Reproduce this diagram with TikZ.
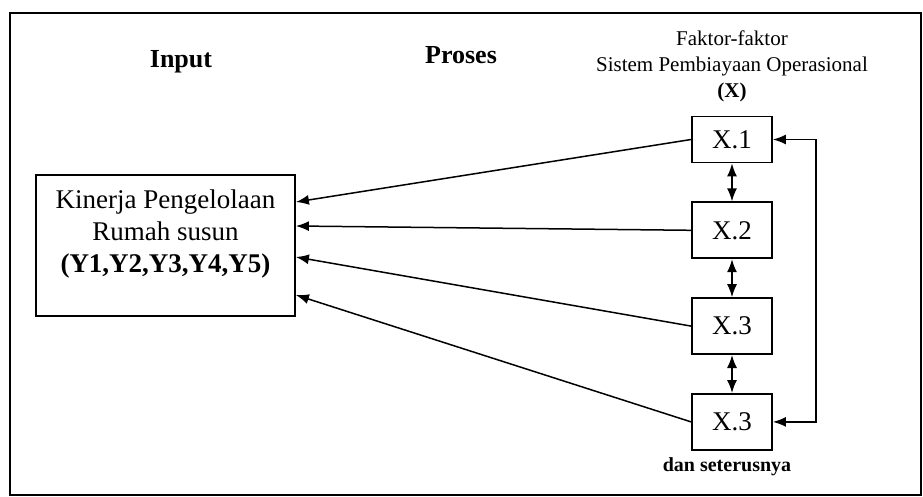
\documentclass[tikz,border=0pt]{standalone}
\usepackage{fontspec}
\setmainfont{Liberation Serif}
\usetikzlibrary{arrows.meta,positioning}
\tikzset{
  xbox/.style={rectangle, draw=black, line width=1.8pt, minimum width=80pt, minimum height=56pt, inner sep=0pt, font=\fontsize{27}{32}\selectfont},
  ybox/.style={rectangle, draw=black, line width=1.8pt, minimum width=259pt, minimum height=141pt, inner sep=0pt},
  header/.style={align=center, inner sep=0pt, font=\fontsize{26}{30}\selectfont\bfseries},
  arrow/.style={line width=1.5pt, -{Latex[length=13pt,width=10pt]}},
  dblarrow/.style={line width=1.5pt, {Latex[length=13pt,width=10pt]}-{Latex[length=13pt,width=10pt]}}
}

\begin{document}
\begin{tikzpicture}[x=1pt, y=-1pt]
    \useasboundingbox (0,0) rectangle (923,497);
    % Frame
    \draw[line width=2.4pt] (10,13) rectangle (921,495);

    % Headers
    \node (input) [header] at (181,62) {Input};
    \node (proses) [header] at (461,55) {Proses};
    \node (faktor) [align=center, inner sep=0pt, font=\fontsize{21}{26}\selectfont] at (732,66)
        {Faktor-faktor\\Sistem Pembiayaan Operasional\\\textbf{(X)}};

    % Nodes
    \node (kinerja) [ybox] at (165.5,245.5) {};
    \node (kinerjatext) [align=center, inner sep=0pt, font=\fontsize{27}{32}\selectfont] at (165.5,234)
        {Kinerja Pengelolaan\\Rumah susun\\\textbf{(Y1,Y2,Y3,Y4,Y5)}};
    \node (x1) [xbox, minimum height=46pt] at (732,139.5) {X.1};
    \node (x2) [xbox, below=38pt of x1] {X.2};
    \node (x3) [xbox, below=38pt of x2] {X.3};
    \node (x4) [xbox, below=38pt of x3] {X.3};
    \node (lanjut) [inner sep=0pt, font=\fontsize{20}{24}\selectfont\bfseries] at (727,467) {dan seterusnya};

    % Arrows
    \draw [arrow] (x1.west) -- ([yshift=43.5pt]kinerja.east);
    \draw [arrow] (x2.west) -- ([yshift=19.5pt]kinerja.east);
    \draw [arrow] (x3.west) -- ([yshift=-11.5pt]kinerja.east);
    \draw [arrow] (x4.west) -- ([yshift=-49.5pt]kinerja.east);
    \draw [dblarrow] (x1) -- (x2);
    \draw [dblarrow] (x2) -- (x3);
    \draw [dblarrow] (x3) -- (x4);
    \draw [dblarrow] (x1.east) -- ++(43,0) |- (x4.east);
\end{tikzpicture}
\end{document}
